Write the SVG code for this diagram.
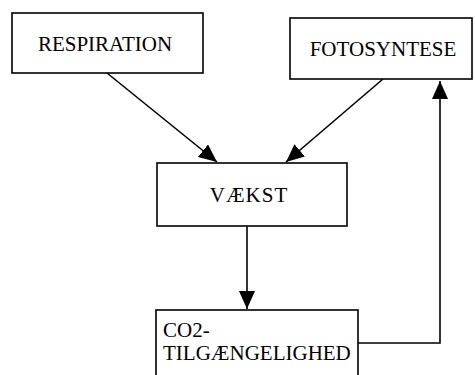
<svg xmlns="http://www.w3.org/2000/svg" width="475" height="375" viewBox="0 0 475 375">
<style>
.box{fill:#fff;stroke:#000;stroke-width:1.6}
.lbl{font-family:"Liberation Serif","Times New Roman",serif;font-size:21px;fill:#000}
.con{fill:none;stroke:#000;stroke-width:1.6}
</style>
<defs>
<marker id="tri" viewBox="-18 -8 18 16" refX="0" refY="0" markerWidth="18" markerHeight="16" markerUnits="userSpaceOnUse" orient="auto">
<path d="M0,0 L-18,-8 L-18,8 Z" fill="#000"/>
</marker>
</defs>
<rect width="475" height="375" fill="#fff"/>
<g id="connectors">
<line class="con" x1="107" y1="73" x2="217" y2="162" marker-end="url(#tri)"/>
<line class="con" x1="383" y1="79" x2="286" y2="162" marker-end="url(#tri)"/>
<line class="con" x1="247" y1="226" x2="247" y2="309" marker-end="url(#tri)"/>
<polyline class="con" points="358,343 440,343 440,81" marker-end="url(#tri)"/>
</g>
<g id="respiration">
<rect class="box" x="12" y="13" width="191" height="60"/>
<text class="lbl" x="105" y="51" text-anchor="middle">RESPIRATION</text>
</g>
<g id="fotosyntese">
<rect class="box" x="290" y="18" width="182" height="61"/>
<text class="lbl" x="383" y="56" text-anchor="middle">FOTOSYNTESE</text>
</g>
<g id="vaekst">
<rect class="box" x="157" y="163" width="190" height="63"/>
<text class="lbl" x="249" y="202" text-anchor="middle" letter-spacing="1">VÆKST</text>
</g>
<g id="co2">
<rect class="box" x="156" y="310" width="202" height="70"/>
<text class="lbl" x="163" y="337">CO2-</text>
<text class="lbl" x="163" y="360">TILGÆNGELIGHED</text>
</g>
</svg>
